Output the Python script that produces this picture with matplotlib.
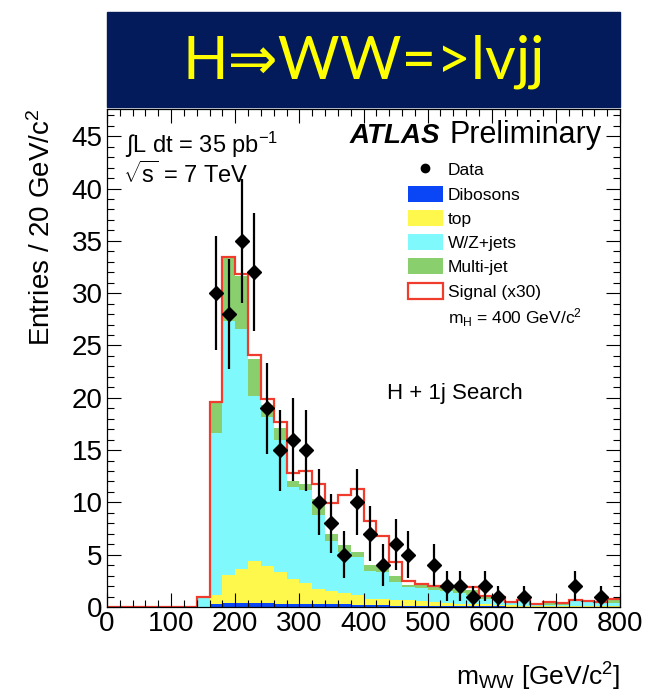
import numpy as np
import matplotlib
matplotlib.use('Agg')
import matplotlib.pyplot as plt
from matplotlib.patches import Patch, Rectangle
from matplotlib.lines import Line2D
from matplotlib.ticker import MultipleLocator

plt.rcParams['font.family'] = ['Liberation Sans', 'DejaVu Sans']
plt.rcParams['mathtext.fontset'] = 'custom'
plt.rcParams['mathtext.rm'] = 'Liberation Sans'
plt.rcParams['mathtext.it'] = 'Liberation Sans:italic'
plt.rcParams['mathtext.bf'] = 'Liberation Sans:bold'

# m_WW bins: 0-800 GeV, 20 GeV wide
bin_edges = np.arange(0, 820, 20)

dibosons = [0, 0, 0, 0, 0, 0, 0, 0, 0.25, 0.35,
            0.35, 0.35, 0.35, 0.3, 0.3, 0.3, 0.3, 0.25, 0.25, 0.2,
            0.15, 0.15, 0.1, 0.1, 0.1, 0.08, 0.05, 0.05, 0.05, 0.05,
            0.05, 0.02, 0.02, 0.02, 0.02, 0.02, 0.02, 0.02, 0.02, 0.02]
top = [0, 0, 0, 0, 0, 0, 0, 0, 0.9, 2.75,
       3.25, 4.0, 3.55, 3.0, 2.4, 2.0, 1.45, 1.25, 1.1, 0.95,
       0.65, 0.6, 0.6, 0.55, 0.45, 0.37, 0.3, 0.25, 0.25, 0.2,
       0.15, 0.13, 0.1, 0.08, 0.08, 0.08, 0.08, 0.08, 0.08, 0.08]
wzjets = [0, 0, 0, 0, 0, 0, 0, 0.95, 15.45, 24.25,
          23.0, 15.85, 14.3, 12.7, 8.8, 8.9, 7.05, 4.8, 3.95, 3.65,
          2.6, 2.55, 1.7, 1.3, 1.25, 1.15, 1.15, 1.0, 0.85, 0.5,
          0.55, 0.25, 0.53, 0.1, 0.1, 0.1, 0.5, 0.4, 0.25, 0.25]
multijet = [0, 0, 0, 0, 0, 0, 0, 0, 3.0, 6.05,
            5.0, 3.55, 1.1, 1.1, 0.5, 0.6, 1.5, 0.7, 0.6, 0.5,
            0.6, 0.6, 0.6, 0.15, 0.3, 0.35, 0.3, 0.45, 0.45, 0.25,
            0.1, 0.05, 0.05, 0.05, 0.25, 0.15, 0.05, 0.05, 0.1, 0.45]
signal_x30 = [0, 0, 0, 0, 0, 0, 0, 0, 0, 0.1,
              0.2, 0.35, 0.6, 0.6, 0.8, 1.2, 1.5, 2.9, 4.8, 6.0,
              4.2, 2.9, 1.3, 0.4, 0.1, 0.05, 0.1, 0.15, 0.3, 0.05,
              0.1, 0.05, 0, 0.05, 0.05, 0.05, 0, 0.05, 0, 0]

data_mww = [170, 190, 210, 230, 250, 270, 290, 310, 330, 350, 370, 390, 410,
            430, 450, 470, 510, 530, 550, 570, 590, 610, 650, 730, 770]
data_entries = [30, 28, 35, 32, 19, 15, 16, 15, 10, 8, 5, 10, 7,
                4, 6, 5, 4, 2, 2, 1, 2, 1, 1, 2, 1]

labels = ['Dibosons', 'top', 'W/Z+jets', 'Multi-jet']
colors = ['#0a46f5', '#fff84c', '#7ff9fb', '#8acf6e']
red = '#f03c2c'

W, H = 646, 693
fig = plt.figure(figsize=(W / 100, H / 100), dpi=100)
ax = fig.add_axes([107 / W, 1 - 607 / H, 513 / W, 498 / H])

base = np.zeros(len(bin_edges) - 1)
for vals, col in zip([dibosons, top, wzjets, multijet], colors):
    vals = np.array(vals)
    ax.stairs(base + vals, bin_edges, baseline=base, fill=True, color=col, lw=0)
    base = base + vals
ax.stairs(base + np.array(signal_x30), bin_edges, baseline=None, color=red, lw=1.6)

ax.errorbar(data_mww, data_entries, yerr=np.sqrt(data_entries), fmt='D',
            color='black', ms=7, elinewidth=1.6, capsize=0, zorder=5)

ax.set_xlim(0, 800)
ax.set_ylim(0, 47.6)
ax.xaxis.set_major_locator(MultipleLocator(100))
ax.xaxis.set_minor_locator(MultipleLocator(20))
ax.yaxis.set_major_locator(MultipleLocator(5))
ax.yaxis.set_minor_locator(MultipleLocator(1))
ax.tick_params(which='both', direction='in', top=True, right=True, width=0.8)
ax.tick_params(which='major', length=10, labelsize=20, pad=3)
ax.tick_params(which='minor', length=5)
for s in ax.spines.values():
    s.set_linewidth(0.9)

ax.set_xlabel(r'm$_{\rm WW}$ [GeV/c$^2$]', fontsize=19, loc='right')
ax.xaxis.set_label_coords(1.0, -0.108)
ax.set_ylabel(r'Entries / 20 GeV/c$^2$', fontsize=20, loc='top')
ax.yaxis.set_label_coords(-0.1, 1.0)

ax.text(0.035, 0.9116, r'∫L dt = 35 pb$^{-1}$', transform=ax.transAxes, fontsize=17)
ax.text(0.031, 0.851, r'$\sqrt{\rm s}$ = 7 TeV', transform=ax.transAxes, fontsize=17)
ax.text(0.4737, 0.9317, 'ATLAS', transform=ax.transAxes, fontsize=20,
        fontweight='bold', fontstyle='italic')
ax.text(0.965, 0.9317, 'Preliminary', transform=ax.transAxes, fontsize=22, ha='right')
ax.text(0.546, 0.418, 'H + 1j Search', transform=ax.transAxes, fontsize=16)

handles = [Line2D([], [], marker='o', ls='none', color='black', ms=6)]
handles += [Patch(facecolor=c, edgecolor='none') for c in colors]
handles += [Patch(facecolor='white', edgecolor=red, lw=1.6),
            Line2D([], [], ls='none')]
leg_labels = ['Data'] + labels + ['Signal (x30)', r'm$_{\rm H}$ = 400 GeV/c$^2$']
ax.legend(handles, leg_labels, loc='upper left', bbox_to_anchor=(0.587, 0.895),
          frameon=False, fontsize=12.5, handlelength=2.0, handleheight=1.05,
          labelspacing=0.42, borderpad=0, borderaxespad=0, handletextpad=0.3)

# slide banner above the plot
fig.add_artist(Rectangle((107 / W, 1 - 107 / H), 513 / W, 95 / H,
                         transform=fig.transFigure, color='#031b5b'))
fig.text(363.5 / W, 1 - 62 / H, 'H⇒WW=>lvjj', color='#ffff00', fontsize=43,
         ha='center', va='center', family=['Lato', 'DejaVu Sans'])

fig.savefig('out.png', dpi=100)
